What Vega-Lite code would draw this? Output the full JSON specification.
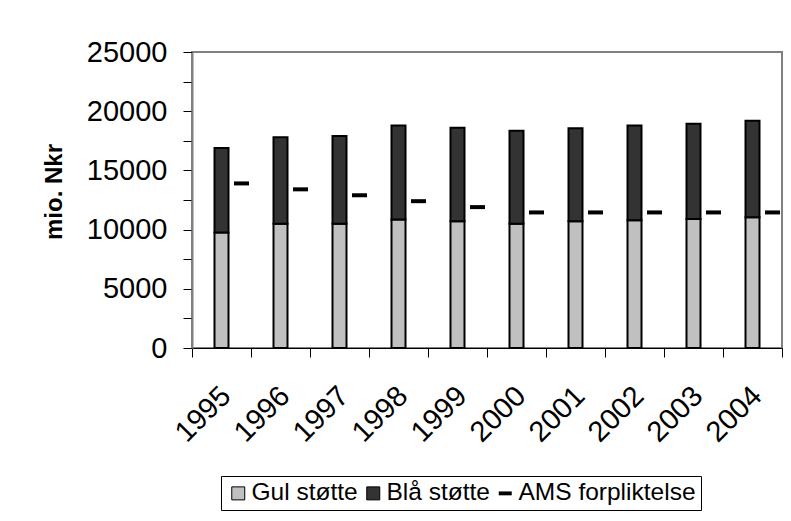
{
  "$schema": "https://vega.github.io/schema/vega-lite/v6.json",
  "width": 590,
  "height": 296,
  "autosize": {"type": "none"},
  "padding": {"left": 192, "top": 52, "right": 9, "bottom": 173},
  "background": "white",
  "config": {
    "view": {"stroke": "#808080", "strokeWidth": 2},
    "font": "Liberation Sans"
  },
  "data": {
    "values": [
      {"year": "1995", "serie": "Gul støtte", "value": 9750},
      {"year": "1995", "serie": "Blå støtte", "value": 7150},
      {"year": "1995", "serie": "AMS forpliktelse", "value": 13900},
      {"year": "1996", "serie": "Gul støtte", "value": 10500},
      {"year": "1996", "serie": "Blå støtte", "value": 7300},
      {"year": "1996", "serie": "AMS forpliktelse", "value": 13400},
      {"year": "1997", "serie": "Gul støtte", "value": 10500},
      {"year": "1997", "serie": "Blå støtte", "value": 7400},
      {"year": "1997", "serie": "AMS forpliktelse", "value": 12900},
      {"year": "1998", "serie": "Gul støtte", "value": 10850},
      {"year": "1998", "serie": "Blå støtte", "value": 7950},
      {"year": "1998", "serie": "AMS forpliktelse", "value": 12400},
      {"year": "1999", "serie": "Gul støtte", "value": 10700},
      {"year": "1999", "serie": "Blå støtte", "value": 7900},
      {"year": "1999", "serie": "AMS forpliktelse", "value": 11900},
      {"year": "2000", "serie": "Gul støtte", "value": 10500},
      {"year": "2000", "serie": "Blå støtte", "value": 7850},
      {"year": "2000", "serie": "AMS forpliktelse", "value": 11450},
      {"year": "2001", "serie": "Gul støtte", "value": 10700},
      {"year": "2001", "serie": "Blå støtte", "value": 7850},
      {"year": "2001", "serie": "AMS forpliktelse", "value": 11450},
      {"year": "2002", "serie": "Gul støtte", "value": 10800},
      {"year": "2002", "serie": "Blå støtte", "value": 8000},
      {"year": "2002", "serie": "AMS forpliktelse", "value": 11450},
      {"year": "2003", "serie": "Gul støtte", "value": 10900},
      {"year": "2003", "serie": "Blå støtte", "value": 8050},
      {"year": "2003", "serie": "AMS forpliktelse", "value": 11450},
      {"year": "2004", "serie": "Gul støtte", "value": 11050},
      {"year": "2004", "serie": "Blå støtte", "value": 8150},
      {"year": "2004", "serie": "AMS forpliktelse", "value": 11450}
    ]
  },
  "encoding": {
    "x": {
      "field": "year",
      "type": "nominal",
      "title": null,
      "scale": {"paddingInner": 0, "paddingOuter": 0},
      "axis": {
        "tickBand": "extent",
        "tickSize": 9,
        "tickColor": "black",
        "domainColor": "black",
        "domainWidth": 1,
        "labelAngle": -45,
        "labelAlign": "right",
        "labelBaseline": "middle",
        "labelFontSize": 29,
        "labelFont": "Liberation Sans",
        "labelColor": "black",
        "labelPadding": 34,
        "labelOffset": 4
      }
    },
    "y": {
      "field": "value",
      "type": "quantitative",
      "scale": {"domain": [0, 25000], "nice": false},
      "axis": {
        "title": "mio. Nkr",
        "titleFont": "Liberation Sans",
        "titleFontSize": 24,
        "titleFontWeight": "bold",
        "titleColor": "black",
        "titleX": -137.5,
        "titleY": 139.5,
        "titleBaseline": "middle",
        "titleAlign": "center",
        "values": [0, 2500, 5000, 7500, 10000, 12500, 15000, 17500, 20000, 22500, 25000],
        "labelExpr": "datum.value % 5000 === 0 ? datum.label : ''",
        "format": "d",
        "grid": false,
        "tickSize": 9,
        "tickColor": "black",
        "domainColor": "#808080",
        "domainWidth": 2,
        "labelFontSize": 29,
        "labelFont": "Liberation Sans",
        "labelColor": "black",
        "labelPadding": 16
      }
    },
    "color": {
      "field": "serie",
      "type": "nominal",
      "scale": {
        "domain": ["Gul støtte", "Blå støtte", "AMS forpliktelse"],
        "range": ["#c0c0c0", "#333333", "#000000"]
      },
      "legend": {
        "title": null,
        "orient": "none",
        "legendX": 29,
        "legendY": 424,
        "direction": "horizontal",
        "strokeColor": "black",
        "fillColor": "white",
        "padding": 5,
        "labelFont": "Liberation Sans",
        "labelFontSize": 24.5,
        "labelColor": "black",
        "labelOffset": 1,
        "labelLimit": 400,
        "columnPadding": 3,
        "symbolSize": 169,
        "symbolStrokeColor": "black",
        "symbolStrokeWidth": 1,
        "symbolType": "square",
        "encode": {
          "symbols": {
            "update": {
              "shape": {"signal": "datum.value === 'AMS forpliktelse' ? 'M-1,-0.3H1V0.3H-1Z' : 'square'"},
              "stroke": {"value": "black"},
              "strokeWidth": {"signal": "datum.value === 'AMS forpliktelse' ? 0 : 1"}
            }
          }
        }
      }
    }
  },
  "layer": [
    {
      "transform": [{"filter": "datum.serie !== 'AMS forpliktelse'"}],
      "mark": {"type": "bar", "stroke": "black", "strokeWidth": 2, "width": 14},
      "encoding": {
        "order": {"field": "serie", "sort": "descending"}
      }
    },
    {
      "transform": [{"filter": "datum.serie === 'AMS forpliktelse'"}],
      "mark": {"type": "tick", "size": 15, "thickness": 4, "xOffset": 20, "opacity": 1},
      "encoding": {
        "y": {"field": "value", "type": "quantitative", "stack": null}
      }
    }
  ]
}
